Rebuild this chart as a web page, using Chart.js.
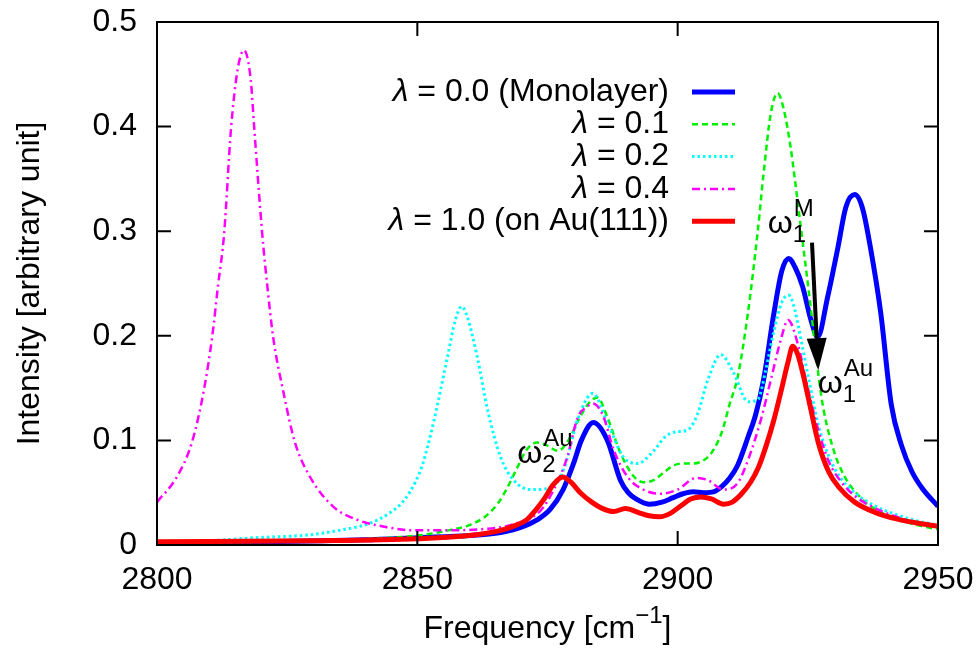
<!DOCTYPE html>
<html>
<head>
<meta charset="utf-8">
<script src="https://cdn.jsdelivr.net/npm/chart.js@4.4.0/dist/chart.umd.min.js"></script>
<style>
  html, body { margin: 0; padding: 0; background: #fff; }
  #wrap { width: 980px; height: 648px; position: relative; }
</style>
</head>
<body>
<div id="wrap"><canvas id="spectrum"></canvas></div>
<script>
// spectra: frequency (cm-1) / intensity pairs per lambda
const xMono = [2800, 2820, 2840, 2850, 2860, 2866, 2870, 2873, 2875.5, 2878, 2880, 2881.5, 2883.8, 2886.5, 2889, 2890.5, 2892, 2894.5, 2897, 2899, 2901, 2903, 2905, 2907, 2908.5, 2910, 2911.5, 2913.5, 2915, 2916.5, 2918.5, 2920, 2921.3, 2922.5, 2924, 2925.6, 2926.9, 2928.8, 2930.8, 2932.3, 2934, 2935.5, 2937, 2939, 2941, 2943, 2945, 2947, 2950];
const yMono = [0.002, 0.003, 0.005, 0.007, 0.009, 0.012, 0.017, 0.024, 0.034, 0.053, 0.078, 0.100, 0.117, 0.100, 0.062, 0.050, 0.044, 0.039, 0.041, 0.045, 0.049, 0.051, 0.050, 0.051, 0.056, 0.064, 0.076, 0.103, 0.125, 0.158, 0.222, 0.262, 0.274, 0.266, 0.247, 0.215, 0.199, 0.237, 0.285, 0.323, 0.335, 0.322, 0.285, 0.222, 0.135, 0.095, 0.070, 0.054, 0.037];

const xL01 = [2800, 2830, 2845, 2850, 2856, 2860, 2863, 2865.5, 2867.3, 2869, 2871, 2873, 2875, 2877, 2879, 2881, 2883, 2884.6, 2886.5, 2889, 2891.5, 2893.5, 2895.4, 2897.5, 2899.2, 2901, 2903, 2905.8, 2907, 2908.5, 2910, 2911.5, 2913.5, 2915.4, 2916.5, 2917.9, 2919.2, 2920.4, 2921.7, 2922.5, 2924, 2925.6, 2927.1, 2928, 2930, 2932, 2935, 2938, 2942, 2946, 2950];
const yL01 = [0.002, 0.004, 0.007, 0.009, 0.014, 0.019, 0.027, 0.040, 0.055, 0.072, 0.091, 0.098, 0.095, 0.090, 0.100, 0.120, 0.136, 0.141, 0.122, 0.088, 0.066, 0.060, 0.062, 0.070, 0.076, 0.078, 0.078, 0.084, 0.092, 0.108, 0.135, 0.160, 0.222, 0.301, 0.355, 0.413, 0.432, 0.416, 0.380, 0.350, 0.290, 0.225, 0.160, 0.130, 0.090, 0.066, 0.046, 0.034, 0.025, 0.019, 0.015];

const xL02 = [2800, 2810, 2819, 2829, 2835, 2841, 2844.8, 2847.5, 2849.6, 2851, 2853.1, 2855.8, 2857.3, 2858.5, 2859.6, 2861.5, 2863.5, 2866, 2868.5, 2871.7, 2875, 2878.1, 2880.8, 2883.7, 2886.5, 2889.6, 2892.3, 2895.4, 2897.5, 2899.5, 2901.9, 2903.8, 2905.8, 2908.3, 2910.8, 2913.5, 2915.4, 2916.9, 2918.5, 2920, 2921.3, 2922.5, 2923.7, 2925.2, 2927, 2929, 2931, 2934, 2938, 2942, 2946, 2950];
const yL02 = [0.002, 0.004, 0.007, 0.0096, 0.014, 0.021, 0.031, 0.043, 0.060, 0.077, 0.117, 0.180, 0.215, 0.228, 0.218, 0.180, 0.129, 0.084, 0.062, 0.053, 0.054, 0.072, 0.120, 0.145, 0.117, 0.084, 0.078, 0.090, 0.103, 0.108, 0.110, 0.125, 0.158, 0.182, 0.164, 0.137, 0.139, 0.167, 0.205, 0.232, 0.239, 0.225, 0.196, 0.158, 0.115, 0.085, 0.066, 0.050, 0.037, 0.029, 0.023, 0.019];

const xL04 = [2800, 2803.8, 2806.7, 2809, 2810.6, 2811.7, 2812.9, 2814.2, 2815.5, 2816.7, 2818, 2818.7, 2820.2, 2821.2, 2822.3, 2824.2, 2826.5, 2829.4, 2834, 2838.5, 2844.2, 2849.4, 2856, 2862, 2866, 2869.2, 2873.7, 2876.2, 2878.8, 2880.8, 2882.5, 2883.8, 2885.8, 2887.7, 2890.4, 2893, 2896.7, 2900, 2903.5, 2905.8, 2908.8, 2911.5, 2913.5, 2916, 2917.9, 2919.8, 2921.2, 2923.2, 2924.6, 2927, 2929, 2931, 2934, 2938, 2942, 2946, 2950];
const yL04 = [0.041, 0.065, 0.098, 0.148, 0.199, 0.247, 0.298, 0.397, 0.455, 0.473, 0.445, 0.397, 0.298, 0.247, 0.199, 0.148, 0.098, 0.065, 0.036, 0.024, 0.017, 0.014, 0.014, 0.015, 0.017, 0.021, 0.033, 0.053, 0.084, 0.122, 0.132, 0.135, 0.122, 0.091, 0.065, 0.054, 0.049, 0.053, 0.064, 0.062, 0.053, 0.059, 0.081, 0.120, 0.158, 0.196, 0.215, 0.190, 0.158, 0.110, 0.080, 0.063, 0.047, 0.035, 0.027, 0.021, 0.017];

const xAu = [2800, 2830, 2850, 2860, 2866, 2869, 2871, 2873, 2874.5, 2876, 2877.9, 2879.5, 2881.3, 2883.5, 2885.5, 2887.7, 2890, 2892.5, 2894.5, 2896.5, 2898.5, 2900.5, 2902.5, 2904.5, 2906.5, 2908.8, 2910.5, 2912.1, 2914, 2915.5, 2917, 2918.5, 2920, 2921.2, 2922.1, 2923, 2924, 2925.6, 2927, 2929, 2931, 2934, 2938, 2942, 2946, 2950];
const yAu = [0.003, 0.004, 0.006, 0.009, 0.014, 0.019, 0.024, 0.035, 0.045, 0.057, 0.065, 0.060, 0.050, 0.041, 0.035, 0.032, 0.035, 0.031, 0.028, 0.027, 0.030, 0.037, 0.044, 0.046, 0.044, 0.039, 0.041, 0.048, 0.060, 0.074, 0.095, 0.120, 0.150, 0.175, 0.190, 0.183, 0.165, 0.129, 0.098, 0.070, 0.055, 0.041, 0.031, 0.025, 0.021, 0.018];

const labels = ['λ = 0.0 (Monolayer)', 'λ = 0.1', 'λ = 0.2', 'λ = 0.4', 'λ = 1.0 (on Au(111))'];
const xTicks = [2800, 2850, 2900, 2950];
const yTicks = [0, 0.1, 0.2, 0.3, 0.4, 0.5];

const pts = (xs, ys) => xs.map((v, i) => ({x: v, y: ys[i]}));
const FONT = "'Liberation Sans', Arial, sans-serif";

Chart.defaults.font.family = FONT;
Chart.defaults.font.size = 32;
Chart.defaults.color = '#000';

// no extra room around the scales, the layout padding decides the plot box
const noPad = s => { s.paddingLeft = 0; s.paddingRight = 0; s.paddingTop = 0; s.paddingBottom = 0; };

// ticks and border drawn gnuplot-style (inward ticks on all 4 sides) + annotations
const frame = {
  id: 'frame',
  afterDatasetsDraw(chart) {
    const {ctx, chartArea: a, scales: {x, y}} = chart;
    ctx.save();
    ctx.strokeStyle = '#000';
    ctx.lineWidth = 2;
    ctx.setLineDash([]);
    ctx.beginPath();
    xTicks.forEach(v => {
      const px = x.getPixelForValue(v);
      ctx.moveTo(px, a.bottom); ctx.lineTo(px, a.bottom - 14);
      ctx.moveTo(px, a.top); ctx.lineTo(px, a.top + 14);
    });
    yTicks.forEach(v => {
      const py = y.getPixelForValue(v);
      ctx.moveTo(a.left, py); ctx.lineTo(a.left + 14, py);
      ctx.moveTo(a.right, py); ctx.lineTo(a.right - 14, py);
    });
    ctx.stroke();
    ctx.strokeRect(a.left, a.top, a.right - a.left, a.bottom - a.top);

    // arrow omega1(M) -> omega1(Au)
    const x0 = x.getPixelForValue(2925.8), y0 = y.getPixelForValue(0.289);
    const x1 = x.getPixelForValue(2927.0), y1 = y.getPixelForValue(0.167);
    const ang = Math.atan2(y1 - y0, x1 - x0);
    const hl = 32, hw = 10;
    const bx = x1 - hl * Math.cos(ang), by = y1 - hl * Math.sin(ang);
    ctx.lineWidth = 4;
    ctx.beginPath(); ctx.moveTo(x0, y0); ctx.lineTo(bx, by); ctx.stroke();
    ctx.beginPath();
    ctx.moveTo(x1, y1);
    ctx.lineTo(bx + hw * Math.sin(ang), by - hw * Math.cos(ang));
    ctx.lineTo(bx - hw * Math.sin(ang), by + hw * Math.cos(ang));
    ctx.closePath();
    ctx.fillStyle = '#000';
    ctx.fill();

    // omega labels
    const omega = (xv, yv, sub, sup) => {
      const px = x.getPixelForValue(xv), py = y.getPixelForValue(yv);
      ctx.textAlign = 'left';
      ctx.textBaseline = 'alphabetic';
      ctx.font = '32px ' + FONT;
      ctx.fillText('ω', px, py);
      const w = ctx.measureText('ω').width;
      ctx.font = '24px ' + FONT;
      ctx.fillText(sub, px + w, py + 9);
      ctx.fillText(sup, px + w + 1, py - 17);
    };
    omega(2917.3, 0.298, '1', 'M');
    omega(2926.9, 0.145, '1', 'Au');
    omega(2869.2, 0.078, '2', 'Au');
    ctx.restore();
  },
  afterDraw(chart) {
    const {ctx, chartArea: a} = chart;
    ctx.save();
    // key, text right-aligned with the line sample to its right
    chart.data.datasets.forEach((ds, i) => {
      const yy = a.top + 70 + i * 32.3;
      const right = a.right - 269;
      const rest = ds.label.slice(1);
      ctx.fillStyle = '#000';
      ctx.textBaseline = 'middle';
      ctx.textAlign = 'right';
      ctx.font = '32px ' + FONT;
      const wRest = ctx.measureText(rest).width;
      ctx.fillText(rest, right, yy);
      ctx.font = 'italic 32px ' + FONT;
      ctx.fillText('λ', right - wRest, yy);
      ctx.strokeStyle = ds.borderColor;
      ctx.lineWidth = ds.borderWidth;
      ctx.setLineDash(ds.borderDash || []);
      ctx.beginPath();
      ctx.moveTo(a.right - 246, yy);
      ctx.lineTo(a.right - 203, yy);
      ctx.stroke();
    });
    ctx.setLineDash([]);

    // x axis title with superscript
    const cx = (a.left + a.right) / 2, by = 638;
    ctx.textBaseline = 'alphabetic';
    ctx.textAlign = 'left';
    ctx.font = '32px ' + FONT;
    const t1 = 'Frequency [cm', t3 = ']';
    const w1 = ctx.measureText(t1).width, w3 = ctx.measureText(t3).width;
    ctx.font = '24px ' + FONT;
    const w2 = ctx.measureText('−1').width;
    let px = cx - (w1 + w2 + w3) / 2;
    ctx.font = '32px ' + FONT;
    ctx.fillText(t1, px, by);
    px += w1;
    ctx.font = '24px ' + FONT;
    ctx.fillText('−1', px, by - 15);
    px += w2;
    ctx.font = '32px ' + FONT;
    ctx.fillText(t3, px, by);
    ctx.restore();
  }
};

const mk = (label, xs, ys, color, width, dash, order) => ({
  label, data: pts(xs, ys), borderColor: color, borderWidth: width, borderDash: dash,
  showLine: true, pointRadius: 0, cubicInterpolationMode: 'monotone', clip: 0, order
});

new Chart(document.getElementById('spectrum'), {
  type: 'scatter',
  data: {
    datasets: [
      mk(labels[0], xMono, yMono, '#0000ff', 5, [], 5),
      mk(labels[1], xL01, yL01, '#00f000', 2.5, [6, 4], 4),
      mk(labels[2], xL02, yL02, '#00ffff', 3, [2.5, 3], 3),
      mk(labels[3], xL04, yL04, '#ff00ff', 2.5, [8, 4, 2, 4], 2),
      mk(labels[4], xAu, yAu, '#ff0000', 5, [], 1)
    ]
  },
  options: {
    responsive: true,
    maintainAspectRatio: false,
    devicePixelRatio: 1,
    animation: false,
    layout: {padding: {top: 22, right: 42, left: 0, bottom: 0}},
    plugins: {legend: {display: false}, tooltip: {enabled: false}},
    scales: {
      x: {
        type: 'linear', min: 2800, max: 2950,
        grid: {display: false, drawTicks: false},
        border: {display: false},
        ticks: {padding: 16, maxRotation: 0, callback: v => String(v)},
        afterBuildTicks: s => { s.ticks = xTicks.map(v => ({value: v})); },
        afterFit: s => { s.height = 103; noPad(s); }
      },
      y: {
        type: 'linear', min: 0, max: 0.5,
        grid: {display: false, drawTicks: false},
        border: {display: false},
        ticks: {padding: 20, callback: v => String(v)},
        title: {display: true, text: 'Intensity [arbitrary unit]', font: {size: 32}, padding: {top: 11, bottom: 0}},
        afterBuildTicks: s => { s.ticks = yTicks.map(v => ({value: v})); },
        afterFit: s => { s.width = 157; noPad(s); }
      }
    }
  },
  plugins: [frame]
});
</script>
</body>
</html>
